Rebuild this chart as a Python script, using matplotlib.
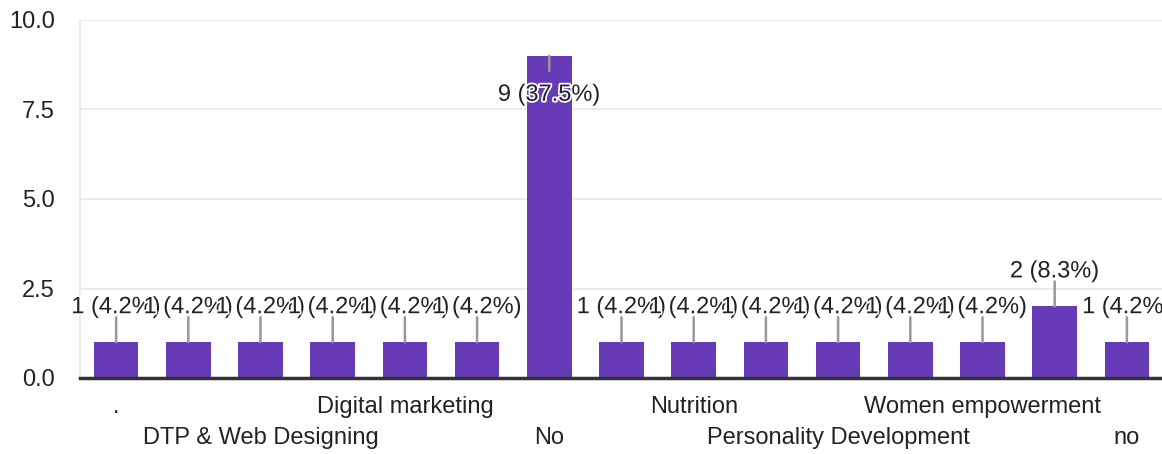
import matplotlib
matplotlib.use("Agg")
import matplotlib.pyplot as plt
import matplotlib.patheffects as pe

categories = [".", "", "DTP & Web Designing", "", "Digital marketing", "", "No", "",
              "Nutrition", "", "Personality Development", "", "Women empowerment", "", "no"]
counts = [1, 1, 1, 1, 1, 1, 9, 1, 1, 1, 1, 1, 1, 2, 1]
total = 24
yticks = [0.0, 2.5, 5.0, 7.5, 10.0]

plt.rcParams['font.family'] = ['Liberation Sans', 'DejaVu Sans']
FS = 17
TXT = '#222222'

fig = plt.figure(figsize=(11.62, 4.54), dpi=100)
ax = fig.add_axes([80/1162, 76/454, (1163-80)/1162, (378-20)/454])

x = list(range(len(counts)))
ax.bar(x, counts, width=0.62, color='#673ab7', zorder=2)
ax.set_xlim(-0.5, len(counts) - 0.5)
ax.set_ylim(0, 10)
ax.set_yticks(yticks)
ax.set_yticklabels([f"{v:.1f}" for v in yticks], fontsize=FS, color=TXT)
ax.tick_params(axis='y', length=0, pad=18)
ax.tick_params(axis='x', length=0)
ax.set_xticks([])
ax.grid(axis='y', color='#ebebeb', linewidth=1.5, zorder=0)
for s in ['top', 'right']:
    ax.spines[s].set_visible(False)
ax.spines['left'].set_color('#ebebeb')
ax.spines['left'].set_linewidth(1.5)
ax.spines['bottom'].set_color('#333333')
ax.spines['bottom'].set_linewidth(2.5)
ax.spines['bottom'].set_zorder(3)

halo = [pe.withStroke(linewidth=2.5, foreground='white')]
vmax = max(counts)
for i, v in enumerate(counts):
    lab = f"{v} ({v/total*100:.1f}%)"
    if v == vmax:
        line_end, text_off = -15, -39
    else:
        line_end, text_off = 25, 35
    ax.annotate('', xy=(i, v), xytext=(0, line_end), textcoords='offset pixels',
                arrowprops=dict(arrowstyle='-', color='#999999', lw=1.8,
                                shrinkA=0, shrinkB=0), zorder=4)
    ax.annotate(lab, xy=(i, v), xytext=(0, text_off), textcoords='offset pixels',
                ha='center', va='center', fontsize=FS, color=TXT,
                path_effects=halo, zorder=5, annotation_clip=False)

for i, c in enumerate(categories):
    if not c:
        continue
    row = (i // 2) % 2
    off = -29 if row == 0 else -60
    ax.annotate(c, xy=(i, 0), xytext=(0, off), textcoords='offset pixels',
                ha='center', va='center', fontsize=FS, color=TXT,
                annotation_clip=False)

fig.savefig('out.png', dpi=100)
